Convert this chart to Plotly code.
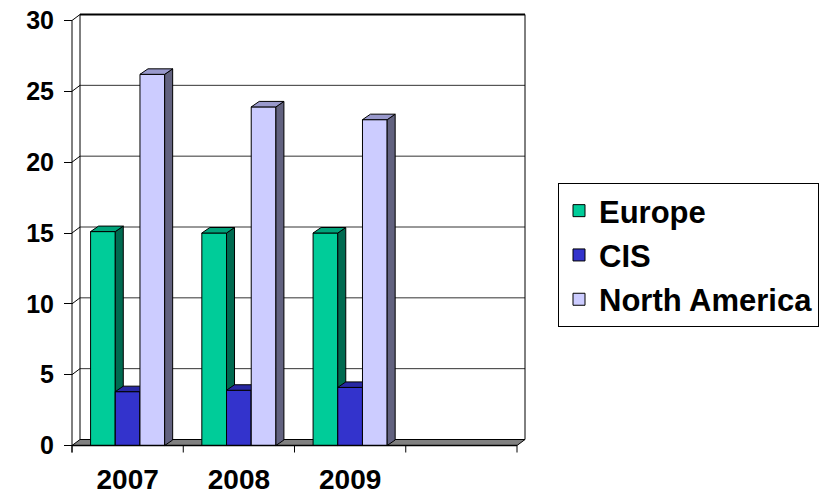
import plotly.graph_objects as go

# ---------------- data ----------------
years = ["2007", "2008", "2009"]
n_slots = 4  # the category axis has one extra empty slot
series_names = ["Europe", "CIS", "North America"]
europe = [15.1, 15.0, 15.0]
cis = [3.8, 3.9, 4.1]
north_america = [26.2, 23.9, 23.0]
y_ticks = [0, 5, 10, 15, 20, 25, 30]

# ---------------- styles ----------------
front_colors = ["#00CC99", "#3333CC", "#CCCCFF"]
top_colors = ["#00A37A", "#2828A3", "#9999CC"]
side_colors = ["#006A50", "#1A1A6B", "#62627F"]
FONT = "Liberation Sans, Arial, sans-serif"

W, H = 830, 494
# pixel geometry of the front plane
PX_X0, PX_X1 = 72, 517
PX_Y0, PX_Y30 = 445.5, 20.5
PLOT_L, PLOT_R, PLOT_T, PLOT_B = 60, 530, 10, 455

ppx = (PX_X1 - PX_X0) / n_slots
ppy = (PX_Y0 - PX_Y30) / 30.0
x_range = [-0.5 - (PX_X0 - PLOT_L) / ppx, -0.5 + (PLOT_R - PX_X0) / ppx]
y_range = [-(PLOT_B - PX_Y0) / ppy, (PX_Y0 - PLOT_T) / ppy]

DXW, DYW = 8 / ppx, 6 / ppy      # depth of walls
DXB, DYB = 8 / ppx, 5.5 / ppy    # depth of bars
BW = 0.222                       # bar width in category units
offsets = [-BW, 0.0, BW]
TICK_DOWN = 7 / ppy

fig = go.Figure()

# floor slab
fx = [-0.5, n_slots - 0.5, n_slots - 0.5 + DXW, -0.5 + DXW, -0.5]
fy = [0, 0, DYW, DYW, 0]
fig.add_trace(go.Scatter(x=fx, y=fy, mode="lines", fill="toself",
                         fillcolor="#808080", line=dict(color="black", width=1),
                         hoverinfo="skip", showlegend=False, zorder=0))

all_vals = [europe, cis, north_america]
for j, (name, vals) in enumerate(zip(series_names, all_vals)):
    centers = [i + offsets[j] for i in range(len(years))]
    # front faces
    fig.add_trace(go.Bar(x=centers, y=vals, width=BW, name=name,
                         marker=dict(color=front_colors[j], line=dict(color="black", width=1)),
                         legendgroup=name, zorder=j + 1, hoverinfo="skip"))
    # side and top faces
    sx, sy, tx, ty = [], [], [], []
    for c, v in zip(centers, vals):
        xl, xr = c - BW / 2, c + BW / 2
        sx += [xr, xr + DXB, xr + DXB, xr, xr, None]
        sy += [0, DYB, v + DYB, v, 0, None]
        tx += [xl, xl + DXB, xr + DXB, xr, xl, None]
        ty += [v, v + DYB, v + DYB, v, v, None]
    fig.add_trace(go.Scatter(x=sx, y=sy, mode="lines", fill="toself",
                             fillcolor=side_colors[j], line=dict(color="black", width=1),
                             hoverinfo="skip", showlegend=False, legendgroup=name, zorder=j + 1))
    fig.add_trace(go.Scatter(x=tx, y=ty, mode="lines", fill="toself",
                             fillcolor=top_colors[j], line=dict(color="black", width=1),
                             hoverinfo="skip", showlegend=False, legendgroup=name, zorder=j + 1))

shapes = []
xb0, xb1 = -0.5 + DXW, n_slots - 0.5 + DXW
# back wall gridlines and left wall diagonals
for v in y_ticks:
    if v == 0:
        continue
    col = "black" if v == y_ticks[-1] else "#333333"
    wid = 2 if v == y_ticks[-1] else 1
    shapes.append(dict(type="line", xref="x", yref="y", x0=xb0, x1=xb1,
                       y0=v + DYW, y1=v + DYW, line=dict(color=col, width=wid), layer="below"))
    shapes.append(dict(type="line", xref="x", yref="y", x0=-0.5, x1=xb0,
                       y0=v, y1=v + DYW, line=dict(color="black", width=1), layer="below"))
# back wall vertical edges
for xv in (xb0, xb1):
    shapes.append(dict(type="line", xref="x", yref="y", x0=xv, x1=xv,
                       y0=DYW, y1=y_ticks[-1] + DYW, line=dict(color="black", width=1), layer="below"))
# front value axis line
shapes.append(dict(type="line", xref="x", yref="y", x0=-0.5, x1=-0.5,
                   y0=-TICK_DOWN, y1=y_ticks[-1], line=dict(color="black", width=1), layer="above"))
# front category axis line and ticks
shapes.append(dict(type="line", xref="x", yref="y", x0=-0.5, x1=n_slots - 0.5,
                   y0=0, y1=0, line=dict(color="black", width=1.5), layer="above"))
for k in range(n_slots + 1):
    xv = k - 0.5
    shapes.append(dict(type="line", xref="x", yref="y", x0=xv, x1=xv,
                       y0=0, y1=-TICK_DOWN, line=dict(color="black", width=1), layer="above"))

plot_w = PLOT_R - PLOT_L
plot_h = PLOT_B - PLOT_T
fig.update_layout(
    width=W, height=H,
    margin=dict(l=PLOT_L, r=W - PLOT_R, t=PLOT_T, b=H - PLOT_B, pad=0, autoexpand=False),
    paper_bgcolor="white", plot_bgcolor="white",
    barmode="overlay",
    shapes=shapes,
    showlegend=True,
    hovermode=False,
    legend=dict(x=(558 - PLOT_L) / plot_w, y=(PLOT_B - 183) / plot_h,
                xanchor="left", yanchor="top",
                font=dict(family=FONT, size=31, color="black", weight="bold"),
                bordercolor="black", borderwidth=1, bgcolor="white",
                tracegroupgap=1, itemclick=False, itemdoubleclick=False),
    xaxis=dict(range=x_range, tickmode="array", tickvals=list(range(len(years))),
               ticktext=years, ticks="", showline=False, showgrid=False, zeroline=False,
               tickfont=dict(family=FONT, size=28, color="black", weight="bold"),
               ticklabelstandoff=5, fixedrange=True, automargin=False,
               ticklabeloverflow="allow"),
    yaxis=dict(range=y_range, tickmode="array", tickvals=y_ticks,
               ticktext=[str(v) for v in y_ticks],
               anchor="free", position=(PX_X0 - PLOT_L) / plot_w,
               ticks="outside", ticklen=8, tickcolor="black", tickwidth=1,
               showline=False, showgrid=False, zeroline=False,
               tickfont=dict(family=FONT, size=25, color="black", weight="bold"),
               ticklabelstandoff=5, fixedrange=True, automargin=False,
               ticklabeloverflow="allow"),
)

fig.write_html("out.html", config={"displayModeBar": False},
               post_script="document.body.style.margin='0';document.body.style.overflow='hidden';")
